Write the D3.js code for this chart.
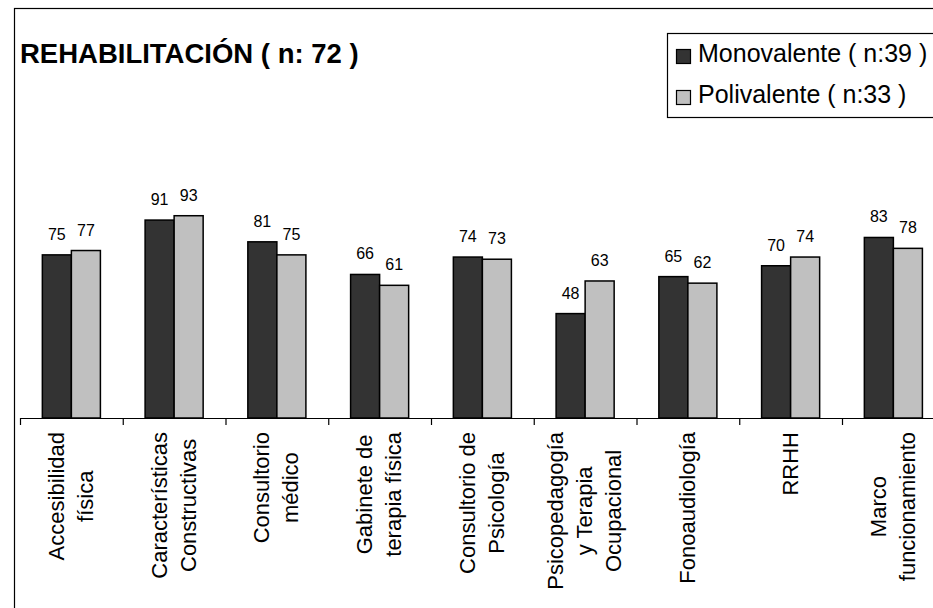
<!DOCTYPE html>
<html>
<head>
<meta charset="utf-8">
<script src="https://cdn.jsdelivr.net/npm/d3@7"></script>
<style>
  body { margin: 0; background: #fff; }
  svg text { font-family: "Liberation Sans", Arial, sans-serif; fill: #000; }
</style>
</head>
<body>
<div id="chart"></div>
<script>
let width = 933
let height = 608

// data
let categories = [
  ['Accesibilidad', 'física'],
  ['Características', 'Constructivas'],
  ['Consultorio', 'médico'],
  ['Gabinete de', 'terapia física'],
  ['Consultorio de', 'Psicología'],
  ['Psicopedagogía', 'y Terapia', 'Ocupacional'],
  ['Fonoaudiología'],
  ['RRHH'],
  ['Marco', 'funcionamiento']
]
let series = ['Monovalente ( n:39 )', 'Polivalente ( n:33 )']
let monovalente = [75, 91, 81, 66, 74, 48, 65, 70, 83]
let polivalente = [77, 93, 75, 61, 73, 63, 62, 74, 78]
let colors = ['#333333', '#c0c0c0']

let svg = d3.select('#chart')
            .append('svg')
            .attr('width', width)
            .attr('height', height)

// outer frame (cut by the picture on right / bottom)
svg.append('rect')
    .attr('x', 14.5)
    .attr('y', 8.5)
    .attr('width', 1000)
    .attr('height', 700)
    .attr('fill', 'none')
    .attr('stroke', '#000')
    .attr('stroke-width', 1.2)

svg.append('text')
    .attr('x', 20)
    .attr('y', 63)
    .style('font-size', '27.5px')
    .style('font-weight', 'bold')
    .text('REHABILITACIÓN ( n: 72 )')

let plotLeft = 20
let step = 102.75
let axisY = 418

let x0 = d3.scaleBand()
            .domain(d3.range(categories.length))
            .range([plotLeft, plotLeft + step * categories.length])
            .paddingInner(0.435)
            .paddingOuter(0.2175)

let x1 = d3.scaleBand()
            .domain(series)
            .range([0, x0.bandwidth()])

let y = d3.scaleLinear()
          .domain([0, 100])
          .range([axisY, 200.5])

let rows = monovalente.map((v, i) => ({ i: i, values: [
  { s: series[0], v: v, c: colors[0] },
  { s: series[1], v: polivalente[i], c: colors[1] }
] }))

let groups = svg.selectAll('g.group')
                .data(rows)
                .enter()
                .append('g')
                .attr('class', 'group')
                .attr('transform', d => 'translate(' + x0(d.i) + ',0)')

groups.selectAll('rect')
      .data(d => d.values)
      .enter()
      .append('rect')
      .attr('x', d => x1(d.s))
      .attr('y', d => y(d.v))
      .attr('width', x1.bandwidth())
      .attr('height', d => axisY - y(d.v))
      .attr('fill', d => d.c)
      .attr('stroke', '#000')
      .attr('stroke-width', 1.5)

groups.selectAll('text.val')
      .data(d => d.values)
      .enter()
      .append('text')
      .attr('class', 'val')
      .attr('x', d => x1(d.s) + x1.bandwidth() / 2)
      .attr('y', d => y(d.v) - 15)
      .attr('text-anchor', 'middle')
      .style('font-size', '16px')
      .text(d => d.v)

// category axis with tick marks between the groups
let xb = d3.scaleLinear()
            .domain([0, categories.length])
            .range([plotLeft, plotLeft + step * categories.length])

svg.append('g')
    .attr('transform', 'translate(0,' + axisY + ')')
    .call(d3.axisBottom(xb).ticks(categories.length).tickFormat('').tickSize(7).tickSizeOuter(0))
    .call(g => g.selectAll('path, line').attr('stroke', '#000').attr('stroke-width', 1.2))

let lineGap = 29
let labels = svg.append('g')
categories.forEach(function (lines, i) {
  let cx = x0(i) + x0.bandwidth() / 2
  let g = labels.append('g')
  let texts = lines.map(function (t, k) {
    return g.append('text')
            .attr('text-anchor', 'middle')
            .style('font-size', '22px')
            .text(t)
  })
  let maxW = d3.max(texts, t => t.node().getComputedTextLength())
  let cy = 432 + maxW / 2
  texts.forEach(function (t, k) {
    let off = (k - (lines.length - 1) / 2) * lineGap
    t.attr('transform', 'translate(' + (cx + off + 7) + ',' + cy + ') rotate(-90)')
  })
})

// legend
let legend = svg.append('g')
legend.append('rect')
      .attr('x', 667.5)
      .attr('y', 33.5)
      .attr('width', 300)
      .attr('height', 84)
      .attr('fill', '#fff')
      .attr('stroke', '#000')
      .attr('stroke-width', 1.2)

let ly = d3.scalePoint().domain(series).range([62, 103])
series.forEach(function (s, k) {
  legend.append('rect')
        .attr('x', 676.5)
        .attr('y', ly(s) - 12.5)
        .attr('width', 14)
        .attr('height', 14)
        .attr('fill', colors[k])
        .attr('stroke', '#000')
        .attr('stroke-width', 1.2)
  legend.append('text')
        .attr('x', 698)
        .attr('y', ly(s))
        .style('font-size', '25px')
        .text(s)
})
</script>
</body>
</html>
